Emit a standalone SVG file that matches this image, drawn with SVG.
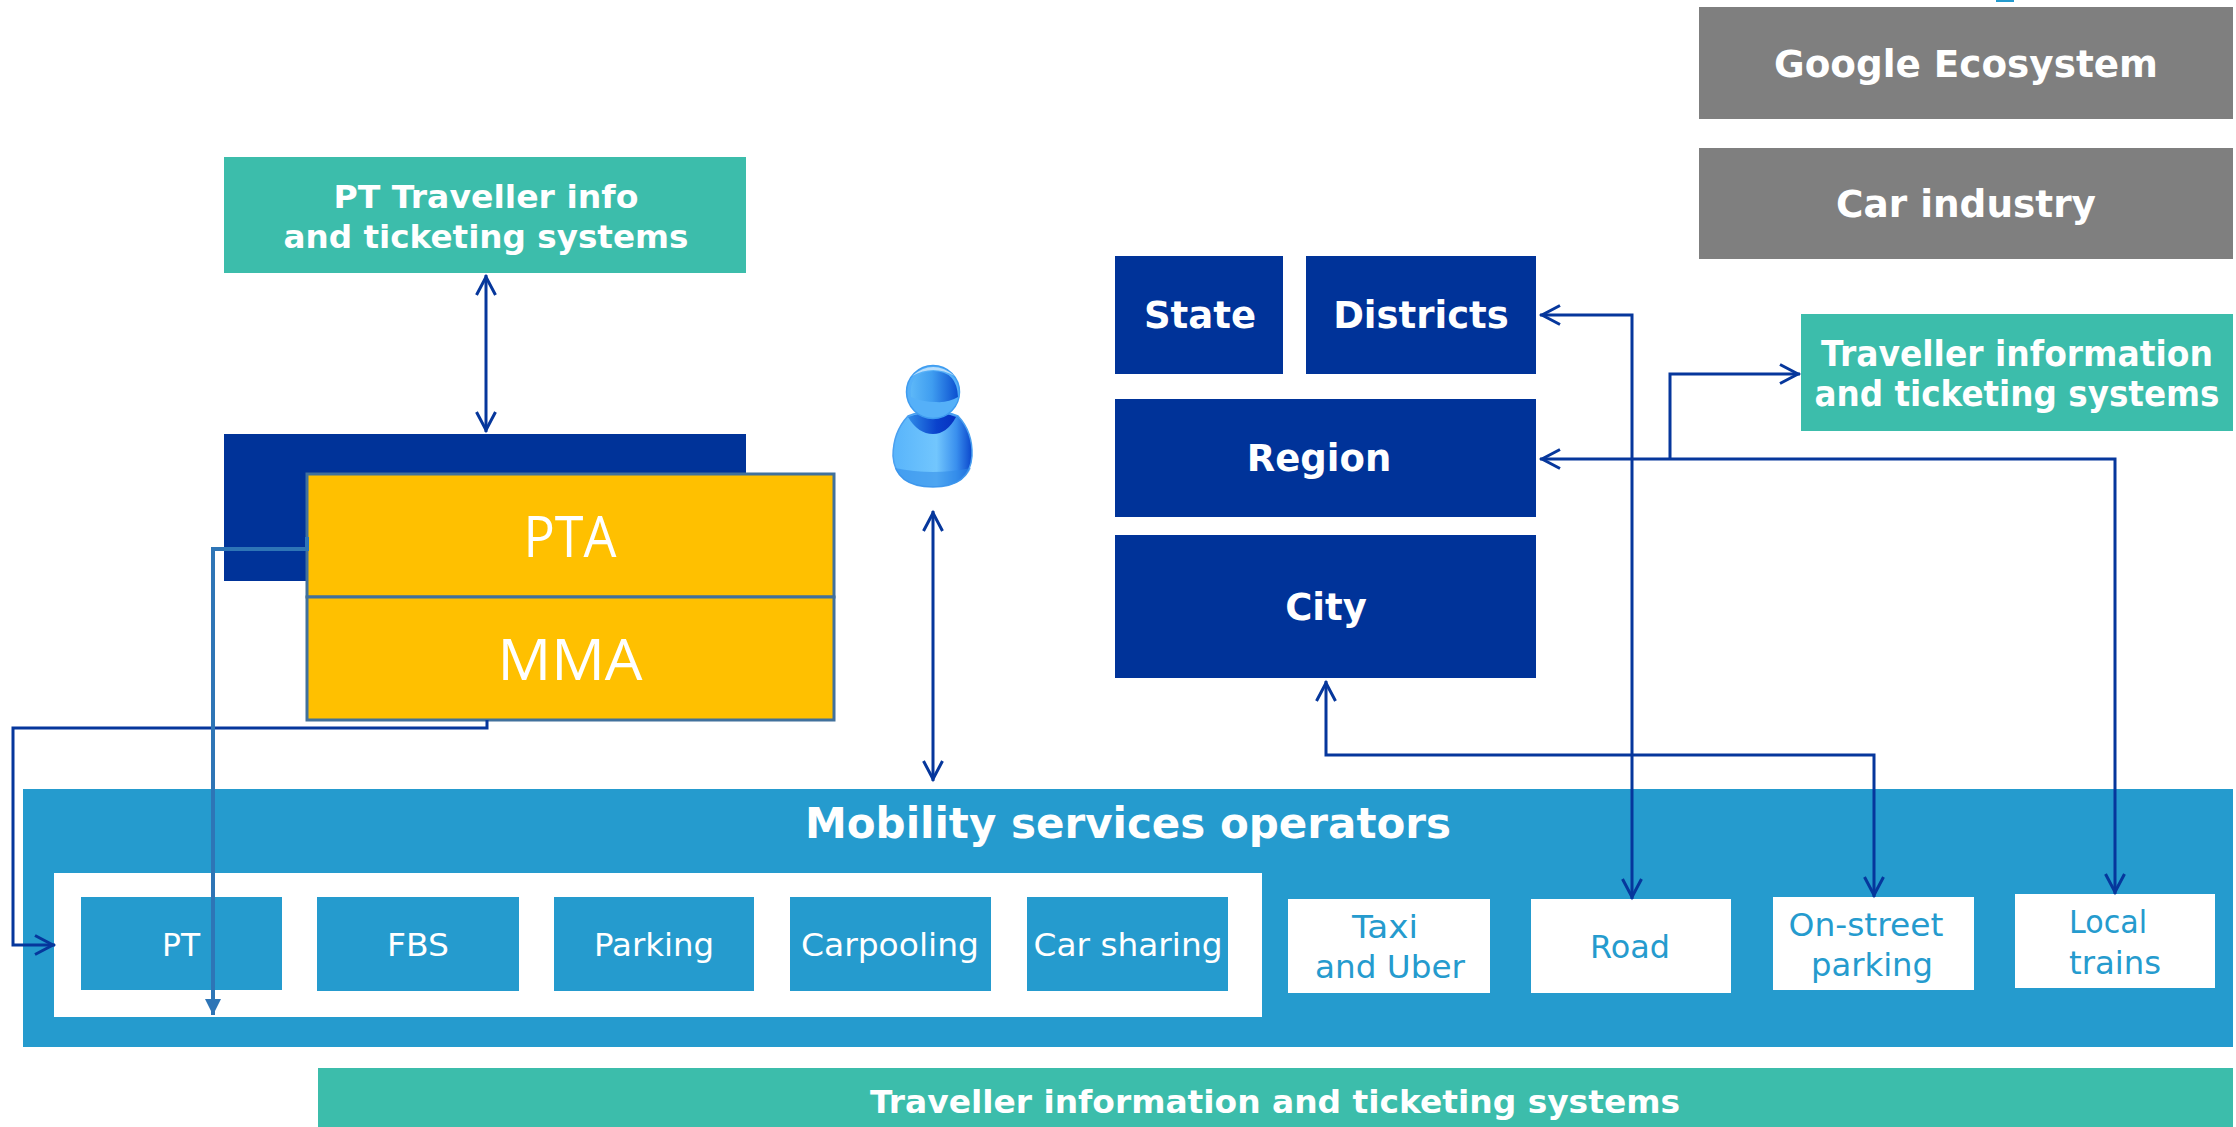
<svg xmlns="http://www.w3.org/2000/svg" width="2236" height="1127" viewBox="0 0 2236 1127">
<style>
text{font-family:"DejaVu Sans",sans-serif;text-anchor:middle}
.b{font-weight:700;fill:#fff}
.w{fill:#fff}
.c{fill:#259bce}
.n{font-family:"Open Sans",sans-serif;fill:#fff;font-size:56px}
.grey{fill:#7f7f7f}.teal{fill:#3cbdab}.navy{fill:#003399}.sky{fill:#259bce}.white{fill:#fff}
.yel{fill:#ffc000;stroke:#41719c;stroke-width:3}
.l{fill:none;stroke:#06379c;stroke-width:3}
.l2{fill:none;stroke:#2e75b6;stroke-width:4}
</style>
<defs>
<marker id="o" viewBox="0 0 24 24" refX="22" refY="12" markerWidth="24" markerHeight="24" markerUnits="userSpaceOnUse" orient="auto-start-reverse"><path d="M2 2.5L20 12L2 21.5" fill="none" stroke="#06379c" stroke-width="3"/></marker>
<marker id="t" viewBox="0 0 16 16" refX="16" refY="8" markerWidth="16" markerHeight="16" markerUnits="userSpaceOnUse" orient="auto"><path d="M0 0L16 8L0 16z" fill="#2e75b6"/></marker>
<linearGradient id="g" x1="0" x2="1"><stop offset="0" stop-color="#5db8f8"/><stop offset=".45" stop-color="#3f9df0"/><stop offset="1" stop-color="#0b4fd0"/></linearGradient>
<linearGradient id="gb" x1="0" x2="1"><stop offset="0" stop-color="#58b4fb"/><stop offset=".55" stop-color="#72c6fd"/><stop offset=".8" stop-color="#3a90ee"/><stop offset="1" stop-color="#0a46cc"/></linearGradient>
<linearGradient id="gd" x1="0" x2="1"><stop offset="0" stop-color="#2f8be8"/><stop offset=".6" stop-color="#0a42cc"/><stop offset="1" stop-color="#0630c0"/></linearGradient>
</defs>
<rect x="1996" y="0" width="18" height="2" fill="#259bce"/>
<g id="google"><rect class="grey" x="1699" y="7" width="534" height="112"/><text class="b" x="1966" y="77" font-size="37" textLength="384" lengthAdjust="spacingAndGlyphs">Google Ecosystem</text></g>
<g id="car"><rect class="grey" x="1699" y="148" width="534" height="111"/><text class="b" x="1966" y="217" font-size="37" textLength="260" lengthAdjust="spacingAndGlyphs">Car industry</text></g>
<g id="pt-info"><rect class="teal" x="224" y="157" width="522" height="116"/><text class="b" x="486" y="208" font-size="32" textLength="305" lengthAdjust="spacingAndGlyphs">PT Traveller info</text><text class="b" x="486" y="248" font-size="32" textLength="405" lengthAdjust="spacingAndGlyphs">and ticketing systems</text></g>
<g id="state"><rect class="navy" x="1115" y="256" width="168" height="118"/><text class="b" x="1200" y="328" font-size="37">State</text></g>
<g id="districts"><rect class="navy" x="1306" y="256" width="230" height="118"/><text class="b" x="1421" y="328" font-size="37">Districts</text></g>
<g id="region"><rect class="navy" x="1115" y="399" width="421" height="118"/><text class="b" x="1319" y="471" font-size="37">Region</text></g>
<g id="city"><rect class="navy" x="1115" y="535" width="421" height="143"/><text class="b" x="1326" y="620" font-size="37">City</text></g>
<g id="traveller"><rect class="teal" x="1801" y="314" width="432" height="117"/><text class="b" x="2017" y="366" font-size="35" textLength="392" lengthAdjust="spacingAndGlyphs">Traveller information</text><text class="b" x="2017" y="406" font-size="35" textLength="405" lengthAdjust="spacingAndGlyphs">and ticketing systems</text></g>
<g id="pta-back"><rect class="navy" x="224" y="434" width="522" height="147"/></g>
<g id="pta"><rect class="yel" x="307" y="474" width="527" height="123"/><text class="n" x="570" y="557" textLength="93" lengthAdjust="spacingAndGlyphs">PTA</text></g>
<g id="mma"><rect class="yel" x="307" y="597" width="527" height="123"/><text class="n" x="570" y="680" textLength="145" lengthAdjust="spacingAndGlyphs">MMA</text></g>
<g id="person"><path d="M908 416Q933 406 958 416Q973 432 972 456Q970 487 933 487Q895 487 893 456Q893 432 908 416z" fill="url(#gb)" stroke="#4aa0f0" stroke-width="1.5"/><path d="M895 468Q933 476 971 468Q963 487 933 487Q903 487 895 468z" fill="#2f8be8" opacity=".55"/><path d="M908 417Q933 408 956 417Q947 434 933 434Q918 434 908 417z" fill="url(#gd)"/><circle cx="933" cy="392" r="26.5" fill="#55b0f8" stroke="#3f9cf0" stroke-width="1.5"/><path d="M911 397Q908 372 933 371Q957 371 958 397Q948 403 936 402Q922 402 911 397z" fill="url(#g)"/><path d="M912 376Q933 358 955 376Q933 364 912 376z" fill="#cfe8fd" opacity=".8"/></g>
<g id="operators"><rect class="sky" x="23" y="789" width="2210" height="258"/><text class="b" x="1128" y="838" font-size="42">Mobility services operators</text><rect class="white" x="54" y="873" width="1208" height="144"/></g>
<g id="pt"><rect class="sky" x="81" y="897" width="201" height="93"/><text class="w" x="181" y="956" font-size="32" textLength="38" lengthAdjust="spacingAndGlyphs">PT</text></g>
<g id="fbs"><rect class="sky" x="317" y="897" width="202" height="94"/><text class="w" x="418" y="956" font-size="32" textLength="62" lengthAdjust="spacingAndGlyphs">FBS</text></g>
<g id="parking"><rect class="sky" x="554" y="897" width="200" height="94"/><text class="w" x="654" y="956" font-size="32" textLength="120" lengthAdjust="spacingAndGlyphs">Parking</text></g>
<g id="carpooling"><rect class="sky" x="790" y="897" width="201" height="94"/><text class="w" x="890" y="956" font-size="32" textLength="178" lengthAdjust="spacingAndGlyphs">Carpooling</text></g>
<g id="carsharing"><rect class="sky" x="1027" y="897" width="201" height="94"/><text class="w" x="1128" y="956" font-size="32" textLength="189" lengthAdjust="spacingAndGlyphs">Car sharing</text></g>
<g id="taxi"><rect class="white" x="1288" y="899" width="202" height="94"/><text class="c" x="1385" y="938" font-size="32" textLength="66" lengthAdjust="spacingAndGlyphs">Taxi</text><text class="c" x="1390" y="978" font-size="32" textLength="150" lengthAdjust="spacingAndGlyphs">and Uber</text></g>
<g id="road"><rect class="white" x="1531" y="899" width="200" height="94"/><text class="c" x="1630" y="958" font-size="32" textLength="80" lengthAdjust="spacingAndGlyphs">Road</text></g>
<g id="onstreet"><rect class="white" x="1773" y="897" width="201" height="93"/><text class="c" x="1866" y="936" font-size="32" textLength="155" lengthAdjust="spacingAndGlyphs">On-street</text><text class="c" x="1872" y="976" font-size="32" textLength="122" lengthAdjust="spacingAndGlyphs">parking</text></g>
<g id="local"><rect class="white" x="2015" y="894" width="200" height="94"/><text class="c" x="2108" y="933" font-size="32" textLength="78" lengthAdjust="spacingAndGlyphs">Local</text><text class="c" x="2115" y="974" font-size="32" textLength="92" lengthAdjust="spacingAndGlyphs">trains</text></g>
<g id="bottom"><rect class="teal" x="318" y="1068" width="1915" height="59"/><text class="b" x="1275" y="1113" font-size="32" textLength="810" lengthAdjust="spacingAndGlyphs">Traveller information and ticketing systems</text></g>
<g id="connectors">
<path class="l" d="M486 275V432" marker-start="url(#o)" marker-end="url(#o)"/>
<path class="l" d="M933 511V781" marker-start="url(#o)" marker-end="url(#o)"/>
<path class="l" d="M487 720V728H13V945H55" marker-end="url(#o)"/>
<path class="l2" d="M307 549H213V1015" marker-end="url(#t)"/>
<path class="l2" d="M307 537V551"/>
<path class="l" d="M1540 315H1632V899" marker-start="url(#o)" marker-end="url(#o)"/>
<path class="l" d="M1540 459H2115V894" marker-start="url(#o)" marker-end="url(#o)"/>
<path class="l" d="M1670 459V374H1800" marker-end="url(#o)"/>
<path class="l" d="M1326 681V755H1874V897" marker-start="url(#o)" marker-end="url(#o)"/>
</g>
</svg>
